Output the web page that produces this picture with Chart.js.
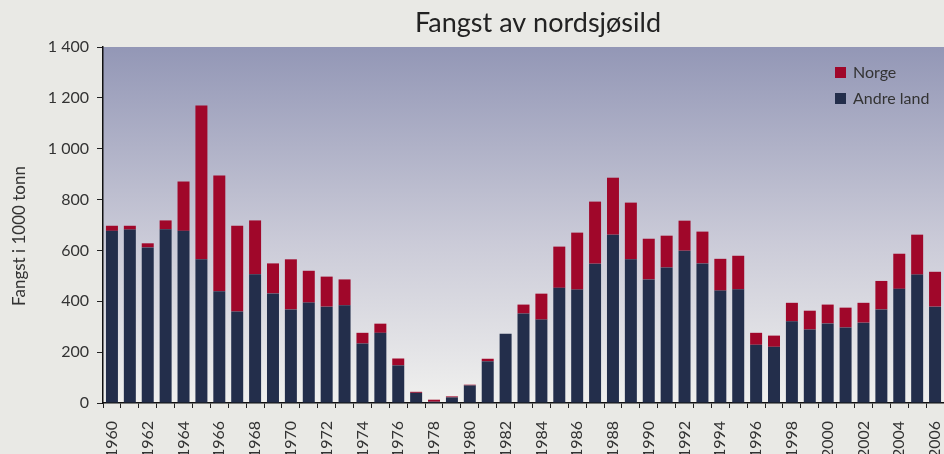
<!DOCTYPE html>
<html>
<head>
<meta charset="utf-8">
<script src="https://cdn.jsdelivr.net/npm/chart.js@4"></script>
<style>
    html, body { margin: 0; padding: 0; background: #e9e9e5; overflow: hidden; }
    #wrap { width: 944px; height: 454px; overflow: hidden; }
</style>
</head>
<body>
<div id="wrap"><canvas id="sildChart" width="944" height="470"></canvas></div>
<script>
const years = [];
for (let y = 1960; y <= 2006; y++) years.push(String(y));

// Andre land (bottom part of each bar), 1000 tonn
const andreLand = [677, 682, 612, 683, 677, 565, 439, 360, 506, 431,
                   368, 395, 379, 384, 234, 276, 148, 40, 5, 22,
                   69, 164, 272, 352, 328, 453, 446, 548, 662, 565,
                   486, 533, 599, 549, 442, 447, 229, 221, 321, 289,
                   313, 297, 316, 368, 449, 505, 379];

// Norge (top part of each bar), 1000 tonn
const norge = [20, 15, 16, 35, 194, 605, 456, 337, 212, 118,
               197, 125, 118, 102, 42, 36, 27, 4, 8, 4,
               3, 10, 0, 35, 102, 162, 224, 244, 224, 223,
               160, 125, 118, 125, 125, 132, 47, 44, 73, 74,
               74, 78, 78, 112, 138, 157, 137];

const yTicks = [0, 200, 400, 600, 800, 1000, 1200, 1400];

const chartTitle = 'Fangst av nordsjøsild';
const yTitle = 'Fangst i 1000 tonn';

const NAVY = '#232e4b';
const RED = '#a0072a';
const TEXT = '#333333';
const FONT = 'Lato, "DejaVu Sans", sans-serif';

// gradient behind the plot area
const plotBackground = {
    id: 'plotBackground',
    beforeDraw(chart) {
        const { ctx, chartArea: a } = chart;
        const g = ctx.createLinearGradient(0, a.top, 0, a.bottom);
        g.addColorStop(0, '#9397b6');
        g.addColorStop(0.55, '#cbcbd8');
        g.addColorStop(1, '#f0f0ee');
        ctx.save();
        ctx.fillStyle = g;
        ctx.fillRect(a.left, a.top, a.right - a.left, a.bottom - a.top);
        ctx.restore();
    }
};

// title, axis title and legend drawn by hand so they sit where the original has them
const extras = {
    id: 'extras',
    afterDraw(chart) {
        const { ctx } = chart;
        ctx.save();
        ctx.fillStyle = '#222';
        ctx.font = '27px ' + FONT;
        ctx.textAlign = 'center';
        ctx.textBaseline = 'alphabetic';
        ctx.fillText(chartTitle, 538, 32);

        ctx.save();
        ctx.translate(20, 236);
        ctx.rotate(-Math.PI / 2);
        ctx.fillStyle = TEXT;
        ctx.font = '17px ' + FONT;
        ctx.textBaseline = 'middle';
        ctx.fillText(yTitle, 0, 0);
        ctx.restore();

        const items = chart.data.datasets.slice().reverse();
        ctx.font = '16px ' + FONT;
        ctx.textAlign = 'left';
        ctx.textBaseline = 'middle';
        items.forEach((ds, i) => {
            const y = 72 + i * 26;
            ctx.fillStyle = ds.backgroundColor;
            ctx.fillRect(835, y - 5, 11, 11);
            ctx.fillStyle = TEXT;
            ctx.fillText(ds.label, 853, y + 1);
        });
        ctx.restore();
    }
};

const ctx = document.getElementById('sildChart').getContext('2d');

new Chart(ctx, {
    type: 'bar',
    data: {
        labels: years,
        datasets: [
            { label: 'Andre land', data: andreLand, backgroundColor: NAVY },
            { label: 'Norge', data: norge, backgroundColor: RED }
        ]
    },
    options: {
        responsive: false,
        animation: false,
        layout: { padding: { top: 47, right: 0, left: 0, bottom: 0 } },
        datasets: { bar: { categoryPercentage: 1, barPercentage: 0.67 } },
        plugins: {
            legend: { display: false },
            tooltip: { enabled: false }
        },
        scales: {
            x: {
                stacked: true,
                afterFit: (s) => {
                    s.height = 470 - 403;
                    s.paddingLeft = 0;
                    s.paddingRight = 0;
                },
                border: { display: true, color: '#111', width: 1.5 },
                grid: { offset: true, drawOnChartArea: false, drawTicks: true, tickLength: 5, color: '#222' },
                ticks: {
                    autoSkip: false,
                    maxRotation: 90,
                    minRotation: 90,
                    padding: 13,
                    color: TEXT,
                    font: { family: FONT, size: 16 },
                    callback: function (v, i) { return i % 2 === 0 ? this.getLabelForValue(v) : ''; }
                }
            },
            y: {
                stacked: true,
                min: 0,
                max: 1400,
                afterFit: (s) => { s.width = 103; },
                afterBuildTicks: (s) => { s.ticks = yTicks.map(v => ({ value: v })); },
                border: { display: true, color: '#111', width: 1.5 },
                grid: { drawOnChartArea: false, drawTicks: true, tickLength: 6, color: '#222' },
                ticks: {
                    padding: 8,
                    color: TEXT,
                    font: { family: FONT, size: 16 },
                    callback: (v) => v >= 1000 ? Math.floor(v / 1000) + ' ' + String(v % 1000).padStart(3, '0') : String(v)
                }
            }
        }
    },
    plugins: [plotBackground, extras]
});
</script>
</body>
</html>
